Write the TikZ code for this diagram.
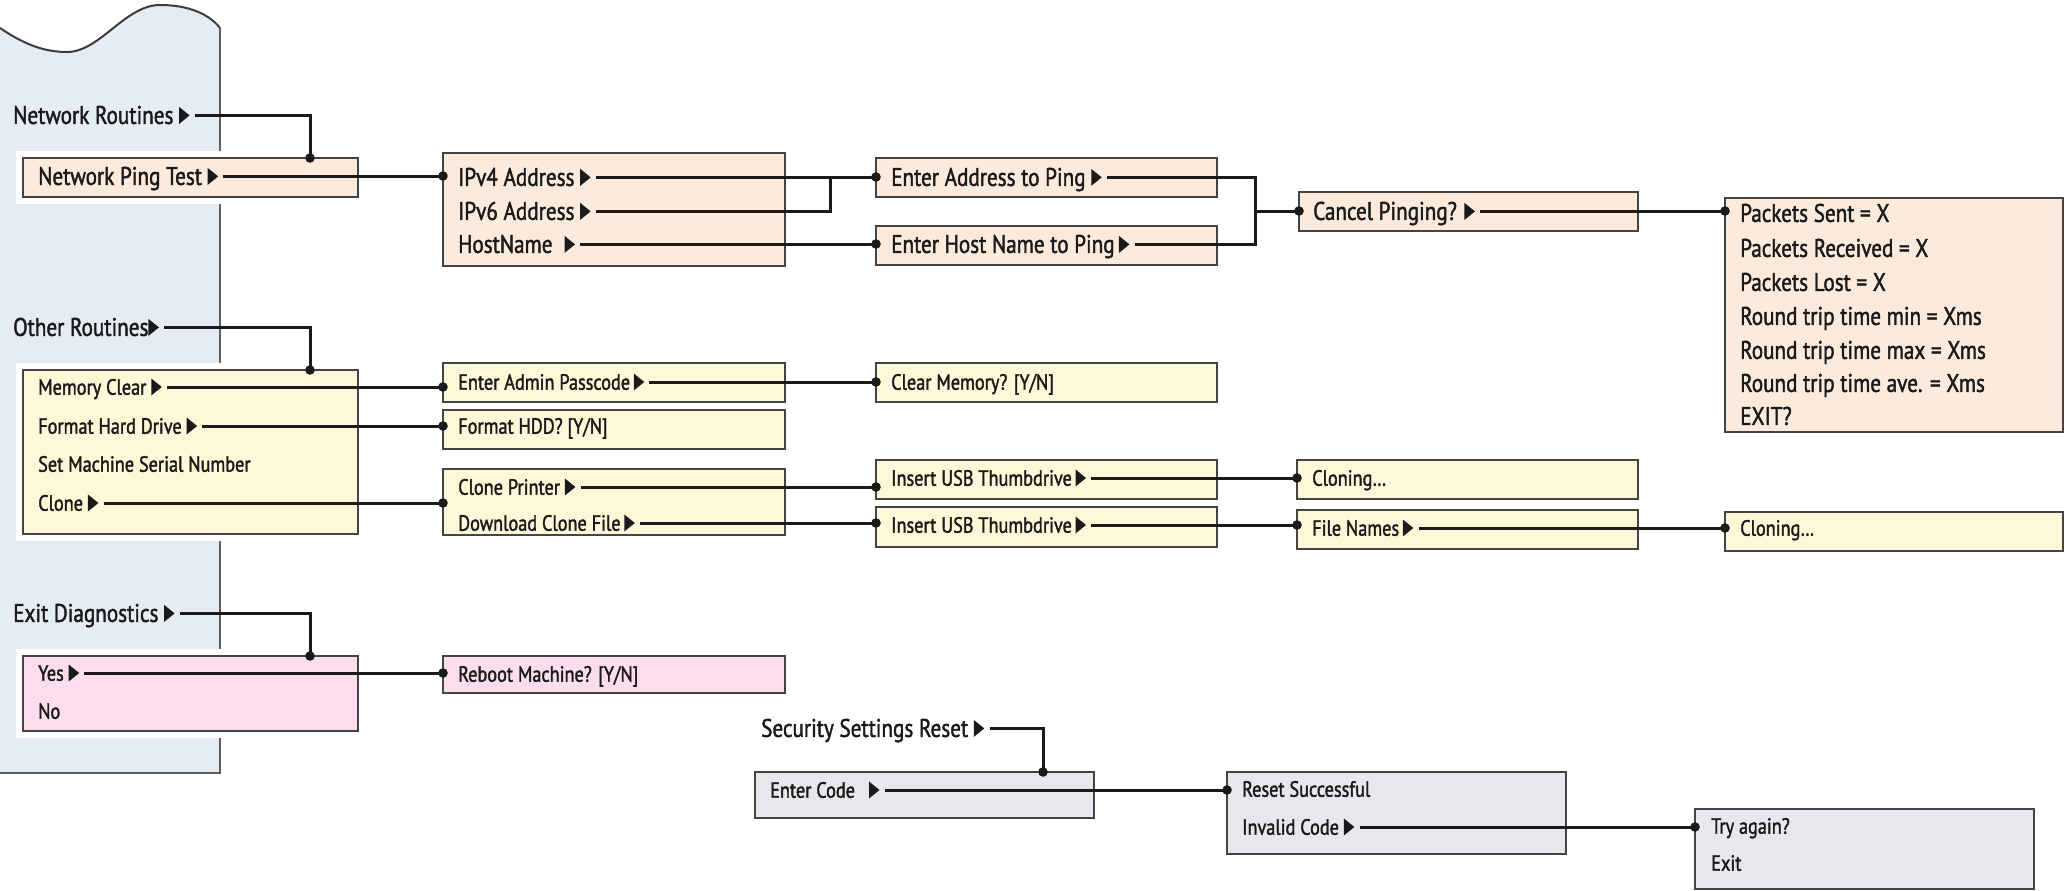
\documentclass[tikz,border=0pt]{standalone}
\usepackage{fontspec}
\setmainfont{PT Sans}[FakeStretch=0.83, FakeBold=1.6]
\usetikzlibrary{calc}

\definecolor{ink}{HTML}{1A1A1A}
\definecolor{boxline}{HTML}{444444}
\definecolor{panelfill}{HTML}{E5ECF4}
\definecolor{panelline}{HTML}{5E5E5E}
\definecolor{peach}{HTML}{FCEBDD}
\definecolor{cream}{HTML}{FEF8D8}
\definecolor{rose}{HTML}{FBDDEB}
\definecolor{lav}{HTML}{E8E7EC}

% solid pointer triangle that follows a menu entry with a submenu
\newsavebox\tribox
\def\trishift{0pt}
\newcommand\tri{\raisebox{\trishift}{\usebox\tribox}}

% a menu box given by its corners (x1,y1) and (x2,y2), y measured downwards
\newcommand\menubox[7][]{%
  \node[menubox, fill=#3, minimum width={(#6-#4)*1pt}, minimum height={(#7-#5)*1pt}, #1] (#2) at (#4,#5) {};}

% connector from an entry to the left edge of the next box, ending in a dot
\newcommand\link[2]{%
  \draw[conn] ([xshift=5pt]#1.east) -- (#2.west |- #1.east);
  \fill[ink] (#2.west |- #1.east) circle (4.8pt);}

\begin{document}
\sbox\tribox{\begin{pgfpicture}%
  \pgfsetfillcolor{ink}%
  \pgfpathmoveto{\pgfpoint{0pt}{0pt}}%
  \pgfpathlineto{\pgfpoint{0pt}{17pt}}%
  \pgfpathlineto{\pgfpoint{10.5pt}{8.5pt}}%
  \pgfpathclose
  \pgfusepath{fill}%
\end{pgfpicture}}%
\begin{tikzpicture}[x=1pt, y=-1pt,
  big/.style={anchor=west, inner sep=0pt, text=ink, text height=17.8pt, text depth=0pt,
    font=\fontsize{25.5}{30}\selectfont\def\trishift{0pt}},
  small/.style={anchor=west, inner sep=0pt, text=ink, text height=15.4pt, text depth=0pt,
    font=\fontsize{22}{26}\selectfont\def\trishift{-0.8pt}},
  menubox/.style={draw=boxline, line width=2.3pt, inner sep=0pt, outer sep=0pt, anchor=north west},
  halo/.style={preaction={draw=white, line width=14pt}},
  conn/.style={draw=ink, line width=3pt}]

\fill[white] (0,0) rectangle (2065,891);
\useasboundingbox (0,0) rectangle (2065,891);

% side panel with the wavy torn top
\fill[panelfill] (0,28) .. controls (25,45) and (45,52) .. (67,52)
  .. controls (100,52) and (125,5) .. (160,5)
  .. controls (190,5) and (210,15) .. (220,28) -- (220,773) -- (0,773) -- cycle;
\draw[panelline, line width=2.2pt] (220,28) -- (220,773) -- (0,773);
\draw[ink!85, line width=2pt] (0,28) .. controls (25,45) and (45,52) .. (67,52)
  .. controls (100,52) and (125,5) .. (160,5)
  .. controls (190,5) and (210,15) .. (220,28);

% ---------- boxes ----------
\menubox[halo]{bnpt}{peach}{23}{158}{358}{197}
\menubox{bip}{peach}{443}{153}{785}{266}
\menubox{bea}{peach}{876}{158}{1217}{197}
\menubox{beh}{peach}{876}{226}{1217}{265}
\menubox{bcp}{peach}{1299}{192}{1638}{231}
\menubox{bpk}{peach}{1725}{198}{2063}{432}

\menubox[halo]{bmem}{cream}{23}{370}{358}{534}
\menubox{beap}{cream}{443}{363}{785}{402}
\menubox{bcm}{cream}{876}{363}{1217}{402}
\menubox{bfh}{cream}{443}{410}{785}{449}
\menubox{bcl}{cream}{443}{469}{785}{535}
\menubox{bu1}{cream}{876}{460}{1217}{499}
\menubox{bu2}{cream}{876}{507}{1217}{547}
\menubox{bc1}{cream}{1297}{460}{1638}{499}
\menubox{bfn}{cream}{1297}{510}{1638}{549}
\menubox{bc2}{cream}{1725}{512}{2063}{551}

\menubox[halo]{byn}{rose}{23}{656}{358}{731}
\menubox{brb}{rose}{443}{656}{785}{693}

\menubox{bec}{lav}{755}{772}{1094}{818}
\menubox{brs}{lav}{1227}{772}{1566}{854}
\menubox{bta}{lav}{1695}{809}{2034}{889}

% ---------- headings ----------
\node[big] (netr) at (13,115) {Network Routines \tri};
\node[big] (othr) at (13,327) {Other Routines\tri};
\node[big] (exitd) at (13,613) {Exit Diagnostics \tri};
\node[big] (secr) at (761,728) {Security Settings Reset \tri};

% ---------- network routines ----------
\node[big] (npt) at (38,176) {Network Ping Test \tri};
\node[big] (ip4) at (458,177) {IPv4 Address \tri};
\node[big] (ip6) at (458,211) {IPv6 Address \tri};
\node[big] (hn)  at (458,244) {HostName\hspace{12pt}\tri};
\node[big] (ea)  at (891,177) {Enter Address to Ping \tri};
\node[big] (eh)  at (891,244) {Enter Host Name to Ping\,\tri};
\node[big] (cp)  at (1313,211) {Cancel Pinging? \tri};
\node[big] (pk1) at (1740,213) {Packets Sent = X};
\node[big] (pk2) at (1740,248) {Packets Received = X};
\node[big] (pk3) at (1740,282) {Packets Lost = X};
\node[big] (pk4) at (1740,316) {Round trip time min = Xms};
\node[big] (pk5) at (1740,350) {Round trip time max = Xms};
\node[big] (pk6) at (1740,383) {Round trip time ave. = Xms};
\node[big] (pk7) at (1740,416) {EXIT?};

% ---------- other routines ----------
\node[small] (mc)   at (38,387) {Memory Clear \tri};
\node[small] (fhd)  at (38,426) {Format Hard Drive \tri};
\node[small] (smsn) at (38,464) {Set Machine Serial Number};
\node[small] (cln)  at (38,503) {Clone \tri};
\node[small] (eap)  at (458,382) {Enter Admin Passcode\,\tri};
\node[small] (cm)   at (891,382) {Clear Memory? [Y/N]};
\node[small] (fh)   at (458,426) {Format HDD? [Y/N]};
\node[small] (cpr)  at (458,487) {Clone Printer \tri};
\node[small] (dcf)  at (458,523) {Download Clone File\,\tri};
\node[small] (u1)   at (891,478) {Insert USB Thumbdrive\,\tri};
\node[small] (u2)   at (891,525) {Insert USB Thumbdrive\,\tri};
\node[small] (c1)   at (1312,478) {Cloning…};
\node[small] (fn)   at (1312,528) {File Names\,\tri};
\node[small] (c2)   at (1740,528) {Cloning…};

% ---------- exit diagnostics ----------
\node[small] (yes) at (38,673) {Yes \tri};
\node[small] (no)  at (38,711) {No};
\node[small] (rb)  at (458,674) {Reboot Machine? [Y/N]};

% ---------- security settings reset ----------
\node[small] (ec) at (770,790) {Enter Code\hspace{14pt}\tri};
\node[small] (rs) at (1242,789) {Reset Successful};
\node[small] (ic) at (1242,827) {Invalid Code \tri};
\node[small] (ta) at (1711,826) {Try again?};
\node[small] (ex) at (1711,863) {Exit};

% ---------- connectors from headings down to their boxes ----------
\coordinate (knet) at ($(bnpt.north west)+(287,0)$);
\coordinate (koth) at ($(bmem.north west)+(287,0)$);
\coordinate (kexi) at ($(byn.north west)+(287,0)$);
\coordinate (ksec) at ($(bec.north west)+(288,0)$);
\draw[conn] ([xshift=5pt]netr.east) -| (knet);  \fill[ink] (knet) circle (4.8pt);
\draw[conn] ([xshift=5pt]othr.east) -| (koth);  \fill[ink] (koth) circle (4.8pt);
\draw[conn] ([xshift=5pt]exitd.east) -| (kexi); \fill[ink] (kexi) circle (4.8pt);
\draw[conn] ([xshift=5pt]secr.east) -| (ksec);  \fill[ink] (ksec) circle (4.8pt);

% ---------- entry connectors ----------
\link{npt}{bip}
\link{ip4}{bea}
\link{hn}{beh}
\link{cp}{bpk}
\link{mc}{beap}
\link{eap}{bcm}
\link{fhd}{bfh}
\link{cln}{bcl}
\link{cpr}{bu1}
\link{dcf}{bu2}
\link{u1}{bc1}
\link{u2}{bfn}
\link{fn}{bc2}
\link{yes}{brb}
\link{ec}{brs}
\link{ic}{bta}

% IPv6 joins the IPv4 branch
\coordinate (ipj) at ($(bip.west |- ip4.east)+(387,0)$);
\draw[conn] ([xshift=5pt]ip6.east) -| (ipj);

% both ping prompts merge into Cancel Pinging?
\coordinate (pjt) at ($(bea.east |- ea.east)+(38,0)$);
\coordinate (pjb) at (pjt |- eh.east);
\coordinate (pjm) at (pjt |- cp.west);
\draw[conn] ([xshift=5pt]ea.east) -- (pjt) -- (pjb) -- ([xshift=5pt]eh.east);
\draw[conn] (pjm) -- (bcp.west |- cp.west);
\fill[ink] (bcp.west |- cp.west) circle (4.8pt);

\end{tikzpicture}
\end{document}
